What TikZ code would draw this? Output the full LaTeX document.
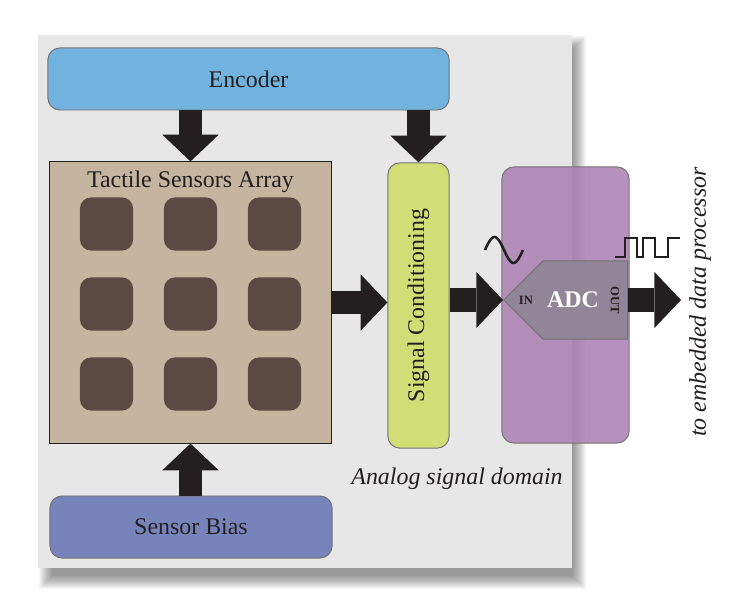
\documentclass[tikz,border=0pt]{standalone}
\usepackage{fontspec}
\setmainfont{Liberation Serif}
\usetikzlibrary{shapes.symbols, arrows.meta, positioning, calc}
\definecolor{panel_grey}{HTML}{E7E7E7}
\definecolor{enc_blue}{HTML}{72B2DE}
\definecolor{tsa_tan}{HTML}{C4B4A0}
\definecolor{cell_brown}{HTML}{5A4A42}
\definecolor{sc_green}{HTML}{D1DD75}
\definecolor{adc_purple}{HTML}{AC82B4}
\definecolor{adc_grey}{HTML}{8E8696}
\definecolor{bias_blue}{HTML}{7783BB}
\definecolor{ink}{HTML}{231F20}
\colorlet{edgegrey}{black!55}
\tikzset{
  lbl/.style={font=\fontsize{17}{20}\selectfont,text=ink},
  lbl_it/.style={font=\fontsize{17}{20}\selectfont\itshape,text=ink},
  block/.style={lbl,rounded corners=0.3cm,draw=edgegrey,line width=0.7pt,inner sep=0pt},
  cell/.style={rounded corners=0.28cm,fill=cell_brown,minimum size=1.33cm,inner sep=0pt},
  pin/.style={font=\fontsize{9}{10}\selectfont\bfseries,text=ink,inner sep=0pt},
  bigarrow/.style={line width=17pt,draw=ink,-{Triangle[width=40pt,length=19pt,line width=0pt]}},
  wave/.style={line width=1.8pt,draw=ink,line join=miter},
}

\begin{document}
\begin{tikzpicture}[x=0.025cm,y=-0.025cm]
	    \useasboundingbox (0,0) rectangle (736,602);
	    % panel and its shadow
	    \foreach \k in {0,...,13}
	      \fill[black,opacity=0.035] (52-\k,49-\k) rectangle (573+\k,576+\k);
	    \fill[panel_grey] (38,35) rectangle (572,568);
	    \node[block,fill=enc_blue,minimum width=10.03cm,minimum height=1.55cm] (Enc) at (248.5,79) {Encoder};
	    \node[draw=ink,line width=0.6pt,fill=tsa_tan,minimum size=7.03cm,inner sep=0pt] (TSA) at (190.5,302.5) {};
	    \node[lbl] (TSAtitle) at (190.5,182) {Tactile Sensors Array};
	    \foreach \r/\yy in {1/224,2/304,3/384}
	      \foreach \c/\xx in {1/106.5,2/190.5,3/274.5}
	        \node[cell] (C\r\c) at (\xx,\yy) {};
	    \node[block,fill=sc_green,minimum width=1.53cm,minimum height=7.13cm] (SC) at (418.5,305.5) {};
	    \node[lbl,rotate=90] (SCtext) at (SC) {Signal Conditioning};
	    \node[block,fill=bias_blue,minimum width=7.05cm,minimum height=1.55cm] (Bias) at (191,527) {Sensor Bias};
	    \node[lbl_it] (Dom) at (457,479) {Analog signal domain};
	    % digital side
	    \node[rounded corners=0.3cm,draw=edgegrey,line width=0.7pt,fill=adc_purple,fill opacity=0.88,
	      minimum width=3.18cm,minimum height=6.9cm] (ADCzone) at (565.5,305) {};
	    \node[signal,signal to=west,signal from=nowhere,draw=edgegrey,line width=0.7pt,fill=adc_grey,
	      fill opacity=0.92,minimum width=3.1cm,minimum height=1.95cm,inner sep=0pt,anchor=west] (ADC) at (503,300) {};
	    \node[font=\fontsize{17}{20}\selectfont\bfseries,text=white] (ADCtext) at (573,300) {ADC};
	    \node[pin] (IN) at (526,300) {IN};
	    \node[pin,rotate=-90] (OUT) at (615,300) {OUT};
	    \coordinate (Out) at (681,300);
	    \node[lbl_it,rotate=90] (Dest) at (700,302) {to embedded data processor};
	    % connectors
	    \draw[bigarrow] (Enc.south -| TSA.north) -- (TSA.north);
	    \draw[bigarrow] (Enc.south -| SC.north) -- (SC.north);
	    \draw[bigarrow] (Bias.north -| TSA.south) -- (TSA.south);
	    \draw[bigarrow] (TSA.east) -- (TSA.east -| SC.west);
	    \draw[bigarrow] (SC.east |- ADC.west) -- (ADC.west);
	    \draw[bigarrow] (ADC.east) -- (Out);
	    % signal sketches
	    \draw[wave] plot[domain=0:1,samples=40,smooth] ({485+38*\x},{250-13*sin(360*\x)});
	    \draw[wave] (615,257) -- (625,257) -- (625,238) -- (637,238) -- (637,257) -- (643,257) -- (643,238)
	      -- (655,238) -- (655,257) -- (668,257) -- (668,238) -- (680,238);
	\end{tikzpicture}
\end{document}
